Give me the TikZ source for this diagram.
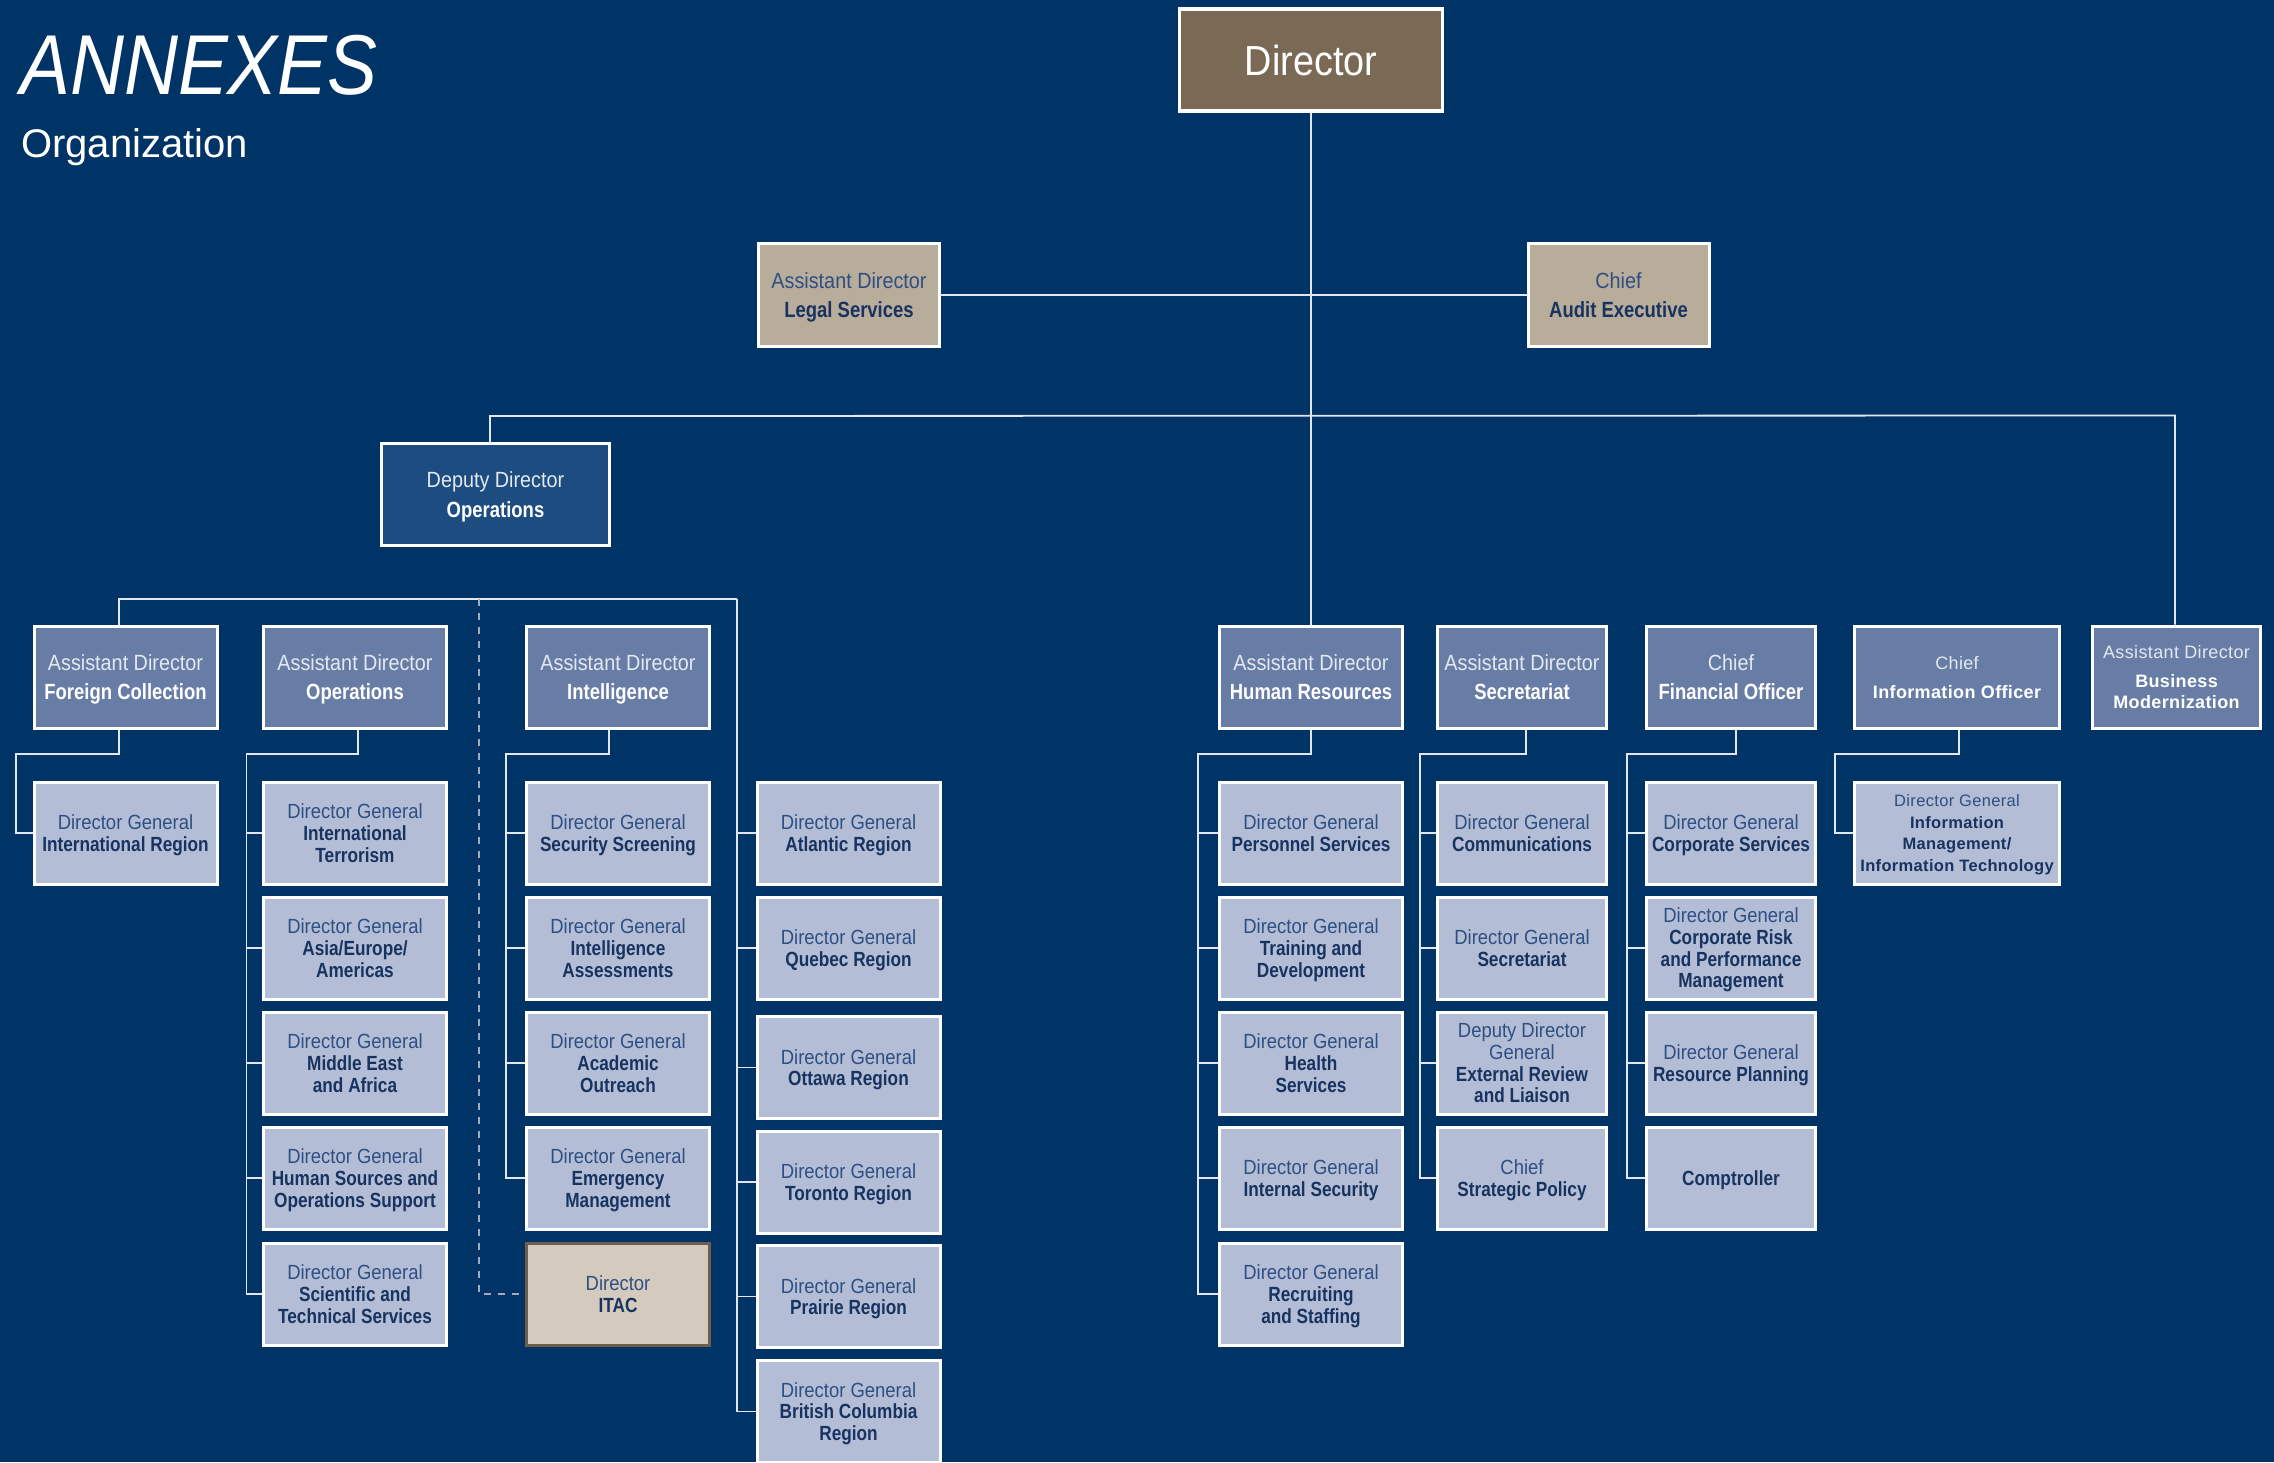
\documentclass[tikz,border=0pt]{standalone}
\usepackage{fontspec}
\setmainfont{Liberation Sans}[FakeStretch=0.9]
\newfontfamily\bdfont{Liberation Sans}[FakeStretch=0.84]
\newfontfamily\widefont{Liberation Sans}[LetterSpace=2]
\newfontfamily\orgfont{Liberation Sans}
\newfontfamily\annexfont{Liberation Sans}[FakeStretch=0.88]
\usetikzlibrary{calc}
\definecolor{bg}{HTML}{003366}
\definecolor{dirbrown}{HTML}{7A6A55}
\definecolor{boxtan}{HTML}{B8AC9B}
\definecolor{deputyblue}{HTML}{1D4C80}
\definecolor{adblue}{HTML}{687DA6}
\definecolor{dgblue}{HTML}{B3BED6}
\definecolor{itacfill}{HTML}{D4CBBE}
\definecolor{itacline}{HTML}{6E5E4B}
\definecolor{navytxt}{HTML}{18335F}
\definecolor{dgpre}{HTML}{2F4E82}
\definecolor{adpre}{HTML}{E4E8F0}
\definecolor{linecol}{HTML}{E2E6EE}
\definecolor{dashcol}{HTML}{A3ABBB}
\newcommand\nm[1]{{\bdfont\bfseries #1}}
\newcommand\wnm[1]{{\widefont\bfseries #1}}
\newcommand\dpre[1]{\textcolor{dgpre}{#1}}
\newcommand\apre[1]{\textcolor{adpre}{#1}}
\tikzset{
  box/.style={draw=white, line width=3pt, inner sep=0pt, align=center, minimum height=102pt, text depth=0pt},
  adbox/.style={box, fill=adblue, text=white, minimum width=183pt, font=\fontsize{22}{29}\selectfont},
  dgbox/.style={box, fill=dgblue, text=navytxt, minimum width=183pt, font=\fontsize{20.5}{21.7}\selectfont},
  tanbox/.style={box, fill=boxtan, text=navytxt, minimum width=181pt, minimum height=103pt, font=\fontsize{22}{29}\selectfont},
  conn/.style={draw=linecol, line width=1.8pt},
  dconn/.style={draw=dashcol, line width=1.8pt, dash pattern=on 7pt off 7pt},
}
\begin{document}
\begin{tikzpicture}[x=1pt,y=-1pt]
\fill[bg] (0,0) rectangle (2274,1462);
\useasboundingbox (0,0) rectangle (2274,1462);

% titles
\node[anchor=base west, inner sep=0pt, text=white, font=\annexfont\itshape\fontsize{85}{85}\selectfont] (annex) at (20,94) {ANNEXES};
\node[anchor=base west, inner sep=0pt, text=white, font=\orgfont\fontsize{40}{40}\selectfont] (org) at (21,157) {Organization};

% top
\node[box, line width=3.5pt, fill=dirbrown, text=white, minimum width=263pt, minimum height=102pt, font=\fontsize{42}{42}\selectfont] (director) at (1311,60) {Director};
\node[tanbox] (legal) at (849,295) {\dpre{Assistant Director}\\\nm{Legal Services}};
\node[tanbox] (audit) at (1618.5,295) {\dpre{Chief}\\\nm{Audit Executive}};
\node[box, fill=deputyblue, text=white, minimum width=228pt, font=\fontsize{22}{30}\selectfont] (deputy) at (495.5,494.5) {\apre{Deputy Director}\\\nm{Operations}};

% level 2
\node[adbox] (fc) at (125.5,677) {\apre{Assistant Director}\\\nm{Foreign Collection}};
\node[adbox] (ops) at (355,677) {\apre{Assistant Director}\\\nm{Operations}};
\node[adbox] (intel) at (618,677) {\apre{Assistant Director}\\\nm{Intelligence}};
\node[adbox] (hr) at (1311,677) {\apre{Assistant Director}\\\nm{Human Resources}};
\node[adbox, minimum width=169pt] (sec) at (1522,677) {\apre{Assistant Director}\\\nm{Secretariat}};
\node[adbox, minimum width=169pt] (cfo) at (1731,677) {\apre{Chief}\\\nm{Financial Officer}};
\node[adbox, minimum width=205pt, font=\widefont\fontsize{18}{29}\selectfont] (cio) at (1957,677) {\apre{Chief}\\\wnm{Information Officer}};
\node[adbox, minimum width=168pt, font=\widefont\fontsize{18}{21.7}\selectfont] (bm) at (2176.5,677) {\apre{Assistant Director}\\[7pt]\wnm{Business}\\\wnm{Modernization}};

% FC column
\node[dgbox] (fc1) at (125.5,833) {\dpre{Director General}\\\nm{International Region}};
% Ops column
\node[dgbox] (o1) at (355,833) {\dpre{Director General}\\\nm{International}\\\nm{Terrorism}};
\node[dgbox] (o2) at (355,948) {\dpre{Director General}\\\nm{Asia/Europe/}\\\nm{Americas}};
\node[dgbox] (o3) at (355,1063) {\dpre{Director General}\\\nm{Middle East}\\\nm{and Africa}};
\node[dgbox] (o4) at (355,1178) {\dpre{Director General}\\\nm{Human Sources and}\\\nm{Operations Support}};
\node[dgbox] (o5) at (355,1294) {\dpre{Director General}\\\nm{Scientific and}\\\nm{Technical Services}};
% Intel column
\node[dgbox] (i1) at (618,833) {\dpre{Director General}\\\nm{Security Screening}};
\node[dgbox] (i2) at (618,948) {\dpre{Director General}\\\nm{Intelligence}\\\nm{Assessments}};
\node[dgbox] (i3) at (618,1063) {\dpre{Director General}\\\nm{Academic}\\\nm{Outreach}};
\node[dgbox] (i4) at (618,1178) {\dpre{Director General}\\\nm{Emergency}\\\nm{Management}};
\node[dgbox, fill=itacfill, draw=itacline] (itac) at (618,1294) {\dpre{Director}\\\nm{ITAC}};
% Regions column
\node[dgbox] (r1) at (848.5,833) {\dpre{Director General}\\\nm{Atlantic Region}};
\node[dgbox] (r2) at (848.5,948) {\dpre{Director General}\\\nm{Quebec Region}};
\node[dgbox] (r3) at (848.5,1067.5) {\dpre{Director General}\\\nm{Ottawa Region}};
\node[dgbox] (r4) at (848.5,1182) {\dpre{Director General}\\\nm{Toronto Region}};
\node[dgbox] (r5) at (848.5,1296.5) {\dpre{Director General}\\\nm{Prairie Region}};
\node[dgbox] (r6) at (848.5,1411.5) {\dpre{Director General}\\\nm{British Columbia}\\\nm{Region}};
% HR column
\node[dgbox] (h1) at (1311,833) {\dpre{Director General}\\\nm{Personnel Services}};
\node[dgbox] (h2) at (1311,948) {\dpre{Director General}\\\nm{Training and}\\\nm{Development}};
\node[dgbox] (h3) at (1311,1063) {\dpre{Director General}\\\nm{Health}\\\nm{Services}};
\node[dgbox] (h4) at (1311,1178) {\dpre{Director General}\\\nm{Internal Security}};
\node[dgbox] (h5) at (1311,1294) {\dpre{Director General}\\\nm{Recruiting}\\\nm{and Staffing}};
% Secretariat column
\node[dgbox, minimum width=169pt] (s1) at (1522,833) {\dpre{Director General}\\\nm{Communications}};
\node[dgbox, minimum width=169pt] (s2) at (1522,948) {\dpre{Director General}\\\nm{Secretariat}};
\node[dgbox, minimum width=169pt] (s3) at (1522,1063) {\dpre{Deputy Director}\\\dpre{General}\\\nm{External Review}\\\nm{and Liaison}};
\node[dgbox, minimum width=169pt] (s4) at (1522,1178) {\dpre{Chief}\\\nm{Strategic Policy}};
% CFO column
\node[dgbox, minimum width=169pt] (c1) at (1731,833) {\dpre{Director General}\\\nm{Corporate Services}};
\node[dgbox, minimum width=169pt] (c2) at (1731,948) {\dpre{Director General}\\\nm{Corporate Risk}\\\nm{and Performance}\\\nm{Management}};
\node[dgbox, minimum width=169pt] (c3) at (1731,1063) {\dpre{Director General}\\\nm{Resource Planning}};
\node[dgbox, minimum width=169pt] (c4) at (1731,1178) {\nm{Comptroller}};
% CIO column
\node[dgbox, minimum width=205pt, font=\widefont\fontsize{16.5}{21.5}\selectfont] (m1) at (1957,833) {\dpre{Director General}\\\wnm{Information}\\\wnm{Management/}\\\wnm{Information Technology}};

% connectors: top
\draw[conn] (director.south) -- (hr.north);
\draw[conn] (legal.east) -- (audit.west);
\coordinate (tbusL) at ($(deputy.north)+(-5.5,-26)$);
\coordinate (tbusR) at ($(bm.north)+(-1.5,-209)$);
\draw[conn] ($(deputy.north)+(-5.5,0)$) -- (tbusL) -- (tbusR) -- ($(bm.north)+(-1.5,0)$);
\draw[conn] ($(sec.north)+(4,0)$) -- ($(sec.north)+(4,0)$ |- tbusL);
\draw[conn] ($(cfo.north)+(5,0)$) -- ($(cfo.north)+(5,0)$ |- tbusL);
\draw[conn] ($(cio.north)+(2,0)$) -- ($(cio.north)+(2,0)$ |- tbusL);

% deputy bus
\coordinate (regb) at (737,599);
\draw[conn] ($(fc.north)+(-6.5,0)$) |- (regb);
\draw[conn] ($(ops.north)+(3,0)$) -- ($(ops.north)+(3,0)$ |- regb);
\draw[conn] ($(intel.north)+(-9,0)$) -- ($(intel.north)+(-9,0)$ |- regb);
\draw[conn] ($(deputy.south)+(-5.5,0)$) -- ($(deputy.south)+(-5.5,0)$ |- regb);
\foreach \n in {r1,r2,r3,r4,r5,r6} \draw[conn] (regb) |- (\n.west);
\coordinate (dtop) at (478.6,599);
\draw[dconn] (dtop) |- (itac.west);

% subordinate buses
\coordinate (fcb) at (16,754);
\draw[conn] ($(fc.south)+(-6.5,0)$) |- (fcb) |- (fc1.west);
\coordinate (opsb) at (246.5,754);
\foreach \n in {o1,o2,o3,o4,o5} \draw[conn] ($(ops.south)+(3,0)$) |- (opsb) |- (\n.west);
\coordinate (intb) at (506,754);
\foreach \n in {i1,i2,i3,i4} \draw[conn] ($(intel.south)+(-9,0)$) |- (intb) |- (\n.west);
\coordinate (hrb) at (1198,754);
\foreach \n in {h1,h2,h3,h4,h5} \draw[conn] (hr.south) |- (hrb) |- (\n.west);
\coordinate (secb) at (1420,754);
\foreach \n in {s1,s2,s3,s4} \draw[conn] ($(sec.south)+(4,0)$) |- (secb) |- (\n.west);
\coordinate (cfob) at (1627,754);
\foreach \n in {c1,c2,c3,c4} \draw[conn] ($(cfo.south)+(5,0)$) |- (cfob) |- (\n.west);
\coordinate (ciob) at (1835,754);
\draw[conn] ($(cio.south)+(2,0)$) |- (ciob) |- (m1.west);
\end{tikzpicture}
\end{document}
